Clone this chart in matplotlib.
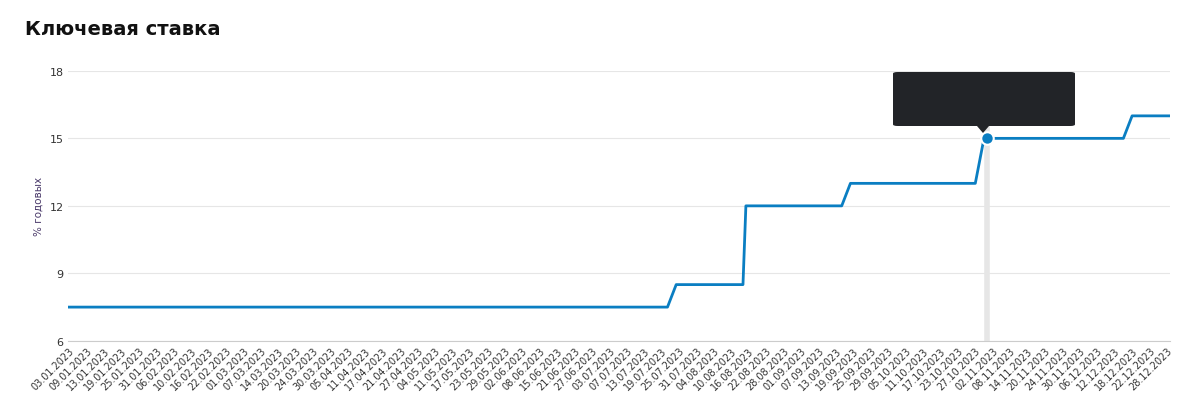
import matplotlib
matplotlib.use("Agg")
import matplotlib.pyplot as plt
from matplotlib.patches import FancyBboxPatch
import pandas as pd
import numpy as np

tick_labels = ["03.01.2023","09.01.2023","13.01.2023","19.01.2023","25.01.2023","31.01.2023","06.02.2023","10.02.2023",
"16.02.2023","22.02.2023","01.03.2023","07.03.2023","14.03.2023","20.03.2023","24.03.2023","30.03.2023","05.04.2023",
"11.04.2023","17.04.2023","21.04.2023","27.04.2023","04.05.2023","11.05.2023","17.05.2023","23.05.2023","29.05.2023",
"02.06.2023","08.06.2023","15.06.2023","21.06.2023","27.06.2023","03.07.2023","07.07.2023","13.07.2023","19.07.2023",
"25.07.2023","31.07.2023","04.08.2023","10.08.2023","16.08.2023","22.08.2023","28.08.2023","01.09.2023","07.09.2023",
"13.09.2023","19.09.2023","25.09.2023","29.09.2023","05.10.2023","11.10.2023","17.10.2023","23.10.2023","27.10.2023",
"02.11.2023","08.11.2023","14.11.2023","20.11.2023","24.11.2023","30.11.2023","06.12.2023","12.12.2023","18.12.2023",
"22.12.2023","28.12.2023"]
change_dates = ["03.01.2023","24.07.2023","15.08.2023","18.09.2023","30.10.2023","18.12.2023","29.12.2023"]
change_values = [7.5, 8.5, 12, 13, 15, 16, 16]

days = pd.bdate_range("2023-01-03", "2023-12-29")
cd = pd.to_datetime(change_dates, format="%d.%m.%Y")
s = pd.Series(change_values, index=cd).reindex(days.union(cd)).ffill().reindex(days)

tk = pd.to_datetime(tick_labels, format="%d.%m.%Y")
tick_pos = np.arange(len(tick_labels))
def xpos(d):
    return np.interp(pd.DatetimeIndex(d).asi8, tk.asi8, tick_pos, right=None)
x = np.interp(days.asi8, tk.asi8, tick_pos)
x_end = tick_pos[-1] + (days[-1] - tk[-1]).days / 4.0
x = np.where(days > tk[-1], tick_pos[-1] + (days.asi8 - tk[-1].value) / (4 * 86400e9) * 0.7, x)

plt.rcParams['font.family'] = ['DejaVu Sans']
fig = plt.figure(figsize=(12, 4.06), dpi=100)
ax = fig.add_axes([0.057, 0.158, 0.918, 0.665])
blue = "#0A7EC2"
ax.plot(x, s.values, color=blue, lw=2)
ax.set_ylim(6, 18)
ax.set_yticks([6, 9, 12, 15, 18])
ax.set_xlim(-0.05, x[-1])
ax.set_xticks(tick_pos)
ax.set_xticklabels(tick_labels, rotation=45, ha="right", rotation_mode="anchor", fontsize=7, color="#333")
ax.tick_params(axis="y", labelsize=8, colors="#333", length=0)
ax.tick_params(axis="x", length=0, pad=3)
ax.grid(axis="y", color="#e6e6e6", lw=0.8)
for sp in ["top", "right", "left"]:
    ax.spines[sp].set_visible(False)
ax.spines["bottom"].set_color("#ccc")
ax.set_ylabel("% годовых", fontsize=7.5, color="#4a3a6a")

td = float(np.interp(pd.Timestamp("2023-10-31").value, tk.asi8, tick_pos))
ax.axvline(td, color="#e6e6e6", lw=4, zorder=0)
ax.plot([td], [15], "o", ms=9, color=blue, mec="white", mew=1.5, zorder=5)

# tooltip (figure pixel coords)
W, H = 1200, 406
box = FancyBboxPatch((893 / W, 1 - 127 / H), 182 / W, 54 / H, boxstyle="round,pad=0,rounding_size=0.004",
                     transform=fig.transFigure, fc="#222428", ec="none", zorder=10)
fig.patches.append(box)
fig.patches.append(plt.Polygon([[977 / W, 1 - 127 / H], [989 / W, 1 - 127 / H], [983 / W, 1 - 134 / H]],
                               closed=True, transform=fig.transFigure, fc="#222428", ec="none"))
fig.text(903 / W, 1 - 90 / H, "31.10.2023", fontsize=7.5, fontweight="bold", color="white", va="center")
fig.text(901 / W, 1 - 110 / H, "●", fontsize=6, color="#1a9be0", va="center")
fig.text(912 / W, 1 - 110 / H, "Значение ключевой ставки: $\\bf{15}$", fontsize=7.5, color="white", va="center")

fig.text(0.021, 0.915, "Ключевая ставка", fontsize=14, fontweight="bold", color="#111")
fig.savefig("out.png", dpi=100)
